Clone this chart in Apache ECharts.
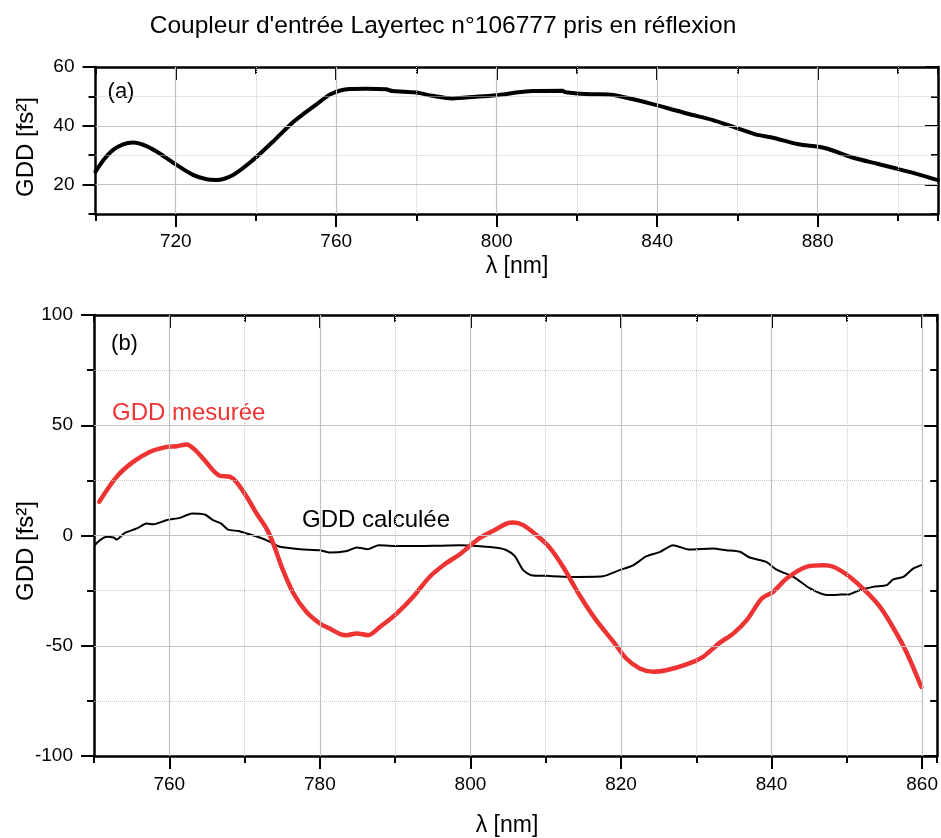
<!DOCTYPE html>
<html><head><meta charset="utf-8">
<script src="https://cdn.jsdelivr.net/npm/echarts@6/dist/echarts.min.js"></script>
<style>html,body{margin:0;padding:0;background:#fff}#c{width:941px;height:838px}</style>
</head><body><div id="c"></div>
<script>
const titleText = "Coupleur d'entrée Layertec n°106777 pris en réflexion";
const xName = "λ [nm]";
const yName = "GDD [fs²]";

// Panel (a)
const lambdaA = [700,702,704.4,706.9,709.4,712.7,716,720.2,724.3,727.7,730.1,734.3,739.3,744.2,749.2,752,755,758.7,763.3,767.5,772.4,774.1,779.9,784,789,794.8,800.6,804.8,808.9,816.4,817.2,822.2,828.4,833.8,839.6,842.9,847.9,853.7,859.5,864.5,868.6,875.2,880.2,882.7,888.5,895.1,900.1,905.1,910];
const gddA = [24.4,28.4,31.8,33.7,34.3,33.1,30.6,26.7,23.3,21.8,21.6,23.3,28.4,34.6,41.2,44.2,47.2,50.8,52.5,52.6,52.4,51.8,51.3,50.2,49.3,49.9,50.5,51.3,51.8,51.9,51.4,50.8,50.6,49.1,47.1,45.9,44.0,42.0,39.4,37.1,36.0,33.7,32.9,32.1,29.3,27.0,25.3,23.5,21.5];

// Panel (b) measured
const lambdaMeas = [750.7,753.0,755.2,757.4,759.65,761,762.3,763.2,764.5,765.8,766.7,768.1,768.9,770.3,771.6,772.9,773.8,775.1,776.5,778.2,780.0,781.3,782.7,783.6,784.9,786.4,788,790.2,792.4,794.6,796.8,798.6,799.9,801.3,803.0,804.8,805.7,807.0,808.8,810.5,812.3,814.5,816.7,819.0,820.7,822.5,824.3,826.0,828.7,830.9,833.1,834.9,836.7,838.7,840.2,842.0,844.6,846.9,848.2,850.4,852.6,854.4,856.1,857.9,859.9];
const gddMeas = [15.3,26.6,33.4,37.9,40.2,40.5,41.3,39.5,34.9,29.6,27.1,26.6,24.3,17.5,10,3.2,-3.6,-15.7,-26.3,-34.6,-39.9,-42.2,-44.7,-45.2,-44.4,-45.2,-41.4,-35.4,-27.8,-18.7,-12.5,-8.5,-4.8,-1.0,2.1,5.4,5.9,4.7,0.1,-5.4,-14.2,-27.1,-38.4,-48.2,-55.8,-60.3,-61.8,-61.1,-58.4,-55,-48.7,-44.5,-38.4,-28.6,-25.6,-19.5,-14.2,-13.5,-14.2,-18.8,-25.6,-32.4,-41.5,-52.8,-68.7];

// Panel (b) calculated
const lambdaCalc = [750.1,750.8,751.7,752.6,753.0,754.1,755.7,757.0,757.9,759.7,761.4,763.0,764.7,765.8,766.9,767.8,769.2,770.3,772.0,773.4,774.7,777.4,780.0,781.3,783.6,784.9,786.4,787.8,790.6,793.3,795.1,798.6,801.3,803.5,804.8,805.9,807.0,808.1,810.1,813.2,817.6,819.8,821.6,823.4,825.2,826.9,829.1,832.2,834.0,835.8,837.1,839.3,840.6,842.9,845.1,847.3,849.1,850.4,851.7,853.5,855.3,856.1,857.5,858.8,860.1];
const gddCalc = [-4.4,-2.1,-0.6,-0.9,-1.8,1.2,3.2,5.4,5.1,7.0,8.0,10.0,9.5,7.0,5.4,2.7,2.0,0.9,-0.9,-2.9,-5.1,-6.2,-6.7,-7.7,-7.0,-5.4,-6.2,-4.4,-4.8,-4.8,-4.7,-4.4,-4.9,-5.6,-6.7,-9.4,-15.7,-18.0,-18.3,-18.8,-18.5,-15.7,-13.5,-9.4,-7.4,-4.4,-6.4,-5.9,-6.7,-7.4,-10,-12,-15.4,-18.8,-24,-27,-26.8,-26.6,-24.8,-23.3,-22.5,-20,-18.8,-15,-13.2];

// Ticks / gridlines
const xTicksA = [720,760,800,840,880];
const xMinorA = [740,780,820,860,900];
const yTicksA = [20,40,60];
const yMinorA = [30,50];
const xTicksB = [760,780,800,820,840,860];
const xMinorB = [770,790,810,830,850];
const yTicksB = [-100,-50,0,50,100];
const yMinorB = [-75,-25,25,75];

const FONT = "'Liberation Sans', Arial, sans-serif";
const BLACK = '#000';
const RED = '#ee3333';
const GRID_SOLID = '#c2c2c2';
const GRID_DOT = '#c8c8c8';

const zip = (a, b) => a.map((v, i) => [v, b[i]]);

const xAxes = [], yAxes = [];
function axisGroup(list, gridIndex, outerPos, innerPos, min, max, step, major, labelMargin) {
  const base = { type: 'value', gridIndex, min, max, silent: true,
    splitLine: { show: false }, minorSplitLine: { show: false } };
  const first = list.length;
  list.push(Object.assign({}, base, {
    position: outerPos, interval: step,
    axisLine: { show: true, onZero: false, lineStyle: { color: BLACK, width: 2.5 } },
    axisTick: { show: true, length: 7, lineStyle: { color: BLACK, width: 2 } },
    axisLabel: { show: false }
  }));
  list.push(Object.assign({}, base, {
    position: outerPos,
    axisLine: { show: false, onZero: false },
    axisTick: { show: true, length: 13, customValues: major, lineStyle: { color: BLACK, width: 2 } },
    axisLabel: { show: true, customValues: major, margin: labelMargin, fontSize: 19, fontFamily: FONT, color: BLACK }
  }));
  list.push(Object.assign({}, base, {
    position: innerPos, interval: step,
    axisLine: { show: true, onZero: false, lineStyle: { color: BLACK, width: 2.5 } },
    axisTick: { show: true, inside: true, length: 7, lineStyle: { color: BLACK, width: 2 } },
    axisLabel: { show: false }
  }));
  list.push(Object.assign({}, base, {
    position: innerPos,
    axisLine: { show: false, onZero: false },
    axisTick: { show: true, inside: true, length: 13, customValues: major, lineStyle: { color: BLACK, width: 2 } },
    axisLabel: { show: false }
  }));
  return first;
}

const xA = axisGroup(xAxes, 0, 'bottom', 'top', 700, 910, 20, xTicksA, 18);
const yA = axisGroup(yAxes, 0, 'left', 'right', 10, 60, 10, yTicksA, 21);
const xB = axisGroup(xAxes, 1, 'bottom', 'top', 750, 862, 10, xTicksB, 19);
const yB = axisGroup(yAxes, 1, 'left', 'right', -100, 100, 25, yTicksB, 21);

function gridLines(xs, xd, ys, yd, xr, yr) {
  const data = [];
  const solid = { type: 'solid', color: GRID_SOLID, width: 1.2 };
  const dot = { type: 'dotted', color: GRID_DOT, width: 1 };
  xs.forEach(v => data.push([{ coord: [v, yr[0]], lineStyle: solid }, { coord: [v, yr[1]] }]));
  xd.forEach(v => data.push([{ coord: [v, yr[0]], lineStyle: dot }, { coord: [v, yr[1]] }]));
  ys.forEach(v => data.push([{ coord: [xr[0], v], lineStyle: solid }, { coord: [xr[1], v] }]));
  yd.forEach(v => data.push([{ coord: [xr[0], v], lineStyle: dot }, { coord: [xr[1], v] }]));
  return { silent: true, symbol: ['none', 'none'], label: { show: false }, animation: false,
    emphasis: { disabled: true }, data };
}

const chart = echarts.init(document.getElementById('c'), null, { renderer: 'canvas' });
chart.setOption({
  animation: false,
  backgroundColor: '#fff',
  grid: [
    { left: 95.5, width: 842.5, top: 67, height: 147 },
    { left: 94, width: 844, top: 315, height: 441 }
  ],
  xAxis: xAxes,
  yAxis: yAxes,
  series: [
    { type: 'line', xAxisIndex: xA, yAxisIndex: yA, data: [], z: 1,
      markLine: gridLines(xTicksA, xMinorA, [20, 40], yMinorA, [700, 910], [10, 60]) },
    { type: 'line', xAxisIndex: xB, yAxisIndex: yB, data: [], z: 1,
      markLine: gridLines(xTicksB, xMinorB, [-50, 0, 50], yMinorB, [750, 860], [-100, 100]) },
    { type: 'line', name: 'a', xAxisIndex: xA, yAxisIndex: yA, data: zip(lambdaA, gddA), z: 3,
      showSymbol: false, smooth: 0.3, lineStyle: { color: BLACK, width: 4, join: 'round', cap: 'round' } },
    { type: 'line', name: 'calc', xAxisIndex: xB, yAxisIndex: yB, data: zip(lambdaCalc, gddCalc), z: 3,
      showSymbol: false, smooth: 0.2, lineStyle: { color: BLACK, width: 2, join: 'round' } },
    { type: 'line', name: 'meas', xAxisIndex: xB, yAxisIndex: yB, data: zip(lambdaMeas, gddMeas), z: 4,
      showSymbol: false, smooth: 0.3, lineStyle: { color: RED, width: 4.5, join: 'round', cap: 'round' } }
  ],
  graphic: [
    { type: 'text', x: 443, y: 26, style: { text: titleText, fontSize: 24.5, fontFamily: FONT, fill: BLACK, align: 'center', verticalAlign: 'middle' } },
    { type: 'text', x: 517, y: 267, style: { text: xName, fontSize: 23, fontFamily: FONT, fill: BLACK, align: 'center', verticalAlign: 'middle' } },
    { type: 'text', x: 507, y: 826, style: { text: xName, fontSize: 23, fontFamily: FONT, fill: BLACK, align: 'center', verticalAlign: 'middle' } },
    { type: 'text', x: 26, y: 147, rotation: Math.PI / 2, style: { text: yName, fontSize: 24, fontFamily: FONT, fill: BLACK, align: 'center', verticalAlign: 'middle' } },
    { type: 'text', x: 26, y: 551, rotation: Math.PI / 2, style: { text: yName, fontSize: 24, fontFamily: FONT, fill: BLACK, align: 'center', verticalAlign: 'middle' } },
    { type: 'text', x: 121, y: 92, style: { text: '(a)', fontSize: 22, fontFamily: FONT, fill: BLACK, align: 'center', verticalAlign: 'middle' } },
    { type: 'text', x: 124.5, y: 344, style: { text: '(b)', fontSize: 22, fontFamily: FONT, fill: BLACK, align: 'center', verticalAlign: 'middle' } },
    { type: 'text', x: 112, y: 413, style: { text: 'GDD mesurée', fontSize: 24, fontFamily: FONT, fill: RED, align: 'left', verticalAlign: 'middle' } },
    { type: 'text', x: 302, y: 520, style: { text: 'GDD calculée', fontSize: 24, fontFamily: FONT, fill: BLACK, align: 'left', verticalAlign: 'middle' } }
  ]
});
</script></body></html>
